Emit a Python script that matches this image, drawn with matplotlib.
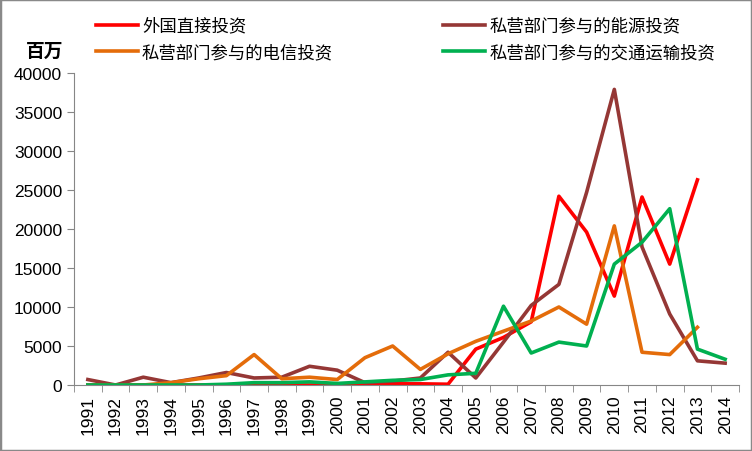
import matplotlib
matplotlib.use("Agg")
import matplotlib.pyplot as plt
from matplotlib.patches import Rectangle

plt.rcParams["font.family"] = ["Liberation Sans", "Noto Sans CJK SC", "DejaVu Sans"]

# Data (millions)
years = [str(y) for y in range(1991, 2015)]
fdi = [0, 0, 0, 0, 0, 0, 0, 0, 0, 0, 100, 150, 150, 100,
       4600, 6100, 8100, 24200, 19600, 11400, 24100, 15500, 26300]
energy = [700, 0, 1000, 300, 900, 1600, 900, 1000, 2400, 1900, 300, 500, 900, 4200,
          900, 5500, 10200, 12900, 24700, 37900, 17700, 9100, 3100, 2800]
telecom = [0, 0, 0, 300, 800, 1200, 3900, 800, 1000, 700, 3500, 5000, 2000, 4000,
           5600, 6900, 8200, 10000, 7800, 20400, 4200, 3900, 7400]
transport = [0, 0, 0, 0, 0, 100, 300, 300, 400, 200, 400, 600, 700, 1300,
             1500, 10100, 4100, 5500, 5000, 15500, 18300, 22600, 4600, 3300]

labels = ["外国直接投资", "私营部门参与的电信投资", "私营部门参与的能源投资", "私营部门参与的交通运输投资"]
colors = {"fdi": "#FF0000", "energy": "#953735", "telecom": "#E46C0A", "transport": "#00B050"}

fig = plt.figure(figsize=(7.52, 4.52), dpi=100)
ax = fig.add_axes([74 / 752, 66 / 452, 665 / 752, 312 / 452])

lw = 2.6
l_fdi, = ax.plot(range(len(fdi)), fdi, color=colors["fdi"], lw=lw)
l_en, = ax.plot(range(len(energy)), energy, color=colors["energy"], lw=lw)
l_tel, = ax.plot(range(len(telecom)), telecom, color=colors["telecom"], lw=lw)
l_tr, = ax.plot(range(len(transport)), transport, color=colors["transport"], lw=lw)

ax.set_xlim(-0.5, len(years) - 0.5)
ax.set_ylim(0, 40000)
ax.set_yticks(range(0, 40001, 5000))
ax.set_xticks(range(len(years)))
ax.set_xticklabels(years, rotation=90)
ax.set_xticks([i - 0.5 for i in range(len(years) + 1)], minor=True)
ax.tick_params(axis="x", which="major", length=0, pad=7, labelsize=12.5)
ax.tick_params(axis="x", which="minor", length=5, color="#868686")
ax.tick_params(axis="y", length=5, color="#868686", labelsize=12.5)

for side in ["top", "right"]:
    ax.spines[side].set_visible(False)
for side in ["left", "bottom"]:
    ax.spines[side].set_color("#868686")

fig.legend([l_fdi, l_tel, l_en, l_tr], labels, ncol=2, frameon=False,
           loc="upper left", bbox_to_anchor=(96 / 752, 1 - 18 / 452),
           fontsize=12.5, handlelength=2.4, handletextpad=0.25,
           columnspacing=6.35, labelspacing=0.55, borderpad=0, borderaxespad=0)

fig.text(45 / 752, 1 - 52 / 452, "百万", ha="center", va="center",
         fontsize=13.5, fontweight="bold")

fig.patches.append(Rectangle((0, 0), 1, 1, transform=fig.transFigure,
                             fill=False, edgecolor="#898989", lw=2.5))

fig.savefig("out.png", dpi=100)
